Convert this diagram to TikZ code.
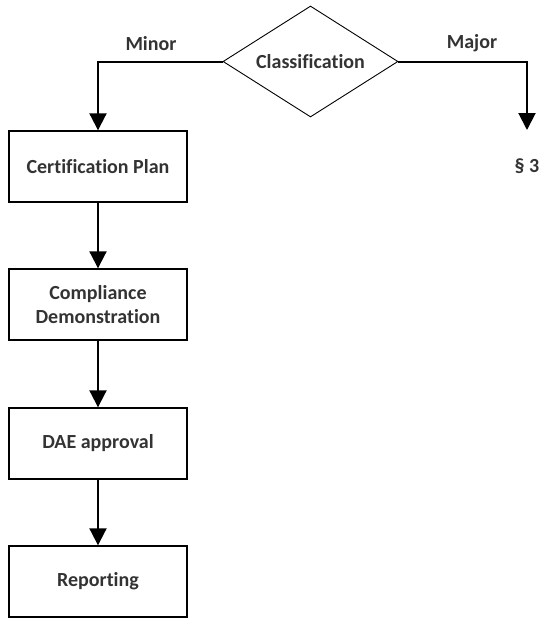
\documentclass[tikz,border=0pt]{standalone}
\usepackage{fontspec}
\setmainfont{Carlito}[Ligatures=NoCommon]
\usetikzlibrary{shapes.geometric,arrows.meta}

\tikzset{
    stepbox/.style={rectangle, draw, line width=1.4pt, minimum width=178pt,
        minimum height=71pt, inner sep=2pt, align=center, font=\bfseries\fontsize{20}{24}\selectfont},
    decision/.style={diamond, draw, line width=0.9pt, aspect=1.58, minimum width=175pt,
        minimum height=111pt, inner sep=0pt, font=\bfseries\fontsize{20}{24}\selectfont},
    flow/.style={line width=2pt, -{Triangle[width=17pt,length=17pt]}},
    branch/.style={font=\bfseries\fontsize{20}{24}\selectfont, text=black!80}
}

\begin{document}
\begin{tikzpicture}[x=1pt, y=-1pt, text=black!80]
    \useasboundingbox (0,0) rectangle (543,619);
    % decision
    \node[decision] (cls) at (310.5,61.5) {Classification};
    % steps
    \node[stepbox] (plan) at (98,166.5) {Certification Plan};
    \node[stepbox] (demo) at (98,304.5) {Compliance\\Demonstration};
    \node[stepbox] (dae) at (98,443.5) {DAE approval};
    \node[stepbox] (rep) at (98,581.5) {Reporting};
    \node[branch] (sec) at (527,166) {\S\ 3};
    \coordinate (secin) at (527,130);

    % branch labels
    \node[branch] (minor) at (151,44) {Minor};
    \node[branch] (major) at (472,43) {Major};

    \draw[flow] (cls.west) -| (plan.north);
    \draw[flow] (cls.east) -| (secin);
    \draw[flow] (plan) -- (demo);
    \draw[flow] (demo) -- (dae);
    \draw[flow] (dae) -- (rep);
\end{tikzpicture}
\end{document}
